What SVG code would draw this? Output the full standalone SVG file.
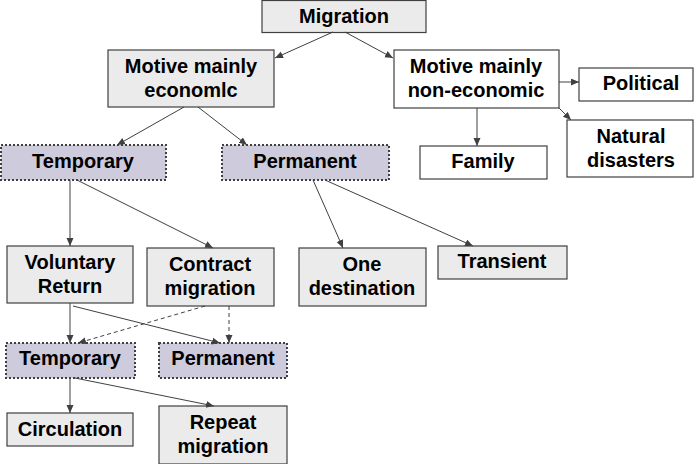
<svg xmlns="http://www.w3.org/2000/svg" width="694" height="464" viewBox="0 0 694 464">
<style>
.g{fill:#ebebeb;stroke:#404040;stroke-width:1.2}
.w{fill:#ffffff;stroke:#404040;stroke-width:1.2}
.p{fill:#cdcbdc;stroke:#404040;stroke-width:2;stroke-dasharray:2 2}
text{font-family:"Liberation Sans",Arial,sans-serif;font-weight:bold;font-size:20px;fill:#000;text-anchor:middle}
.c line{stroke:#404040;stroke-width:1;fill:none;marker-end:url(#ah)}
.c .d{stroke-dasharray:4 3}
</style>
<defs>
<marker id="ah" markerUnits="userSpaceOnUse" markerWidth="9" markerHeight="8" refX="8" refY="3.5" orient="auto">
<path d="M0,0 L8,3.5 L0,7 z" fill="#404040"/>
</marker>
</defs>
<rect width="694" height="464" fill="#ffffff"/>
<g id="n-migration"><rect class="g" x="262" y="0.5" width="164" height="32"/><text x="344" y="23">Migration</text></g>
<g id="n-economic"><rect class="g" x="108" y="50" width="166" height="57"/><text x="191" y="73">Motive mainly</text><text x="191" y="97">economlc</text></g>
<g id="n-noneconomic"><rect class="w" x="394" y="50" width="165" height="58"/><text x="476" y="73">Motive mainly</text><text x="476" y="97">non-economic</text></g>
<g id="n-political"><rect class="w" x="579" y="68" width="114" height="33"/><text x="641" y="90">Political</text></g>
<g id="n-natural"><rect class="w" x="567" y="120" width="126" height="57"/><text x="631" y="143">Natural</text><text x="631" y="167">disasters</text></g>
<g id="n-family"><rect class="w" x="420" y="146" width="127" height="33"/><text x="483" y="168">Family</text></g>
<g id="n-temporary1"><rect class="p" x="1" y="145" width="165" height="35"/><text x="83" y="168">Temporary</text></g>
<g id="n-permanent1"><rect class="p" x="222" y="145" width="167" height="35"/><text x="305" y="168">Permanent</text></g>
<g id="n-voluntary"><rect class="g" x="7" y="246" width="126" height="57"/><text x="70" y="269">Voluntary</text><text x="70" y="293">Return</text></g>
<g id="n-contract"><rect class="g" x="147" y="248" width="127" height="58"/><text x="210" y="271">Contract</text><text x="210" y="295">migration</text></g>
<g id="n-onedest"><rect class="g" x="299" y="248" width="127" height="58"/><text x="362" y="271">One</text><text x="362" y="295">destination</text></g>
<g id="n-transient"><rect class="g" x="438" y="246" width="129" height="33"/><text x="502" y="268">Transient</text></g>
<g id="n-temporary2"><rect class="p" x="6" y="343" width="129" height="35"/><text x="70" y="365">Temporary</text></g>
<g id="n-permanent2"><rect class="p" x="159" y="343" width="128" height="35"/><text x="223" y="365">Permanent</text></g>
<g id="n-circulation"><rect class="g" x="7" y="413" width="126" height="33"/><text x="70" y="436">Circulation</text></g>
<g id="n-repeat"><rect class="g" x="159" y="406" width="128" height="58"/><text x="223" y="429">Repeat</text><text x="223" y="453">migration</text></g>
<g id="connectors" class="c">
<line x1="333" y1="32" x2="275" y2="58"/>
<line x1="345" y1="32" x2="393" y2="58"/>
<line x1="184" y1="107" x2="117" y2="145"/>
<line x1="198" y1="107" x2="247" y2="145"/>
<line x1="559" y1="82" x2="579" y2="82"/>
<line x1="559" y1="108" x2="571" y2="120"/>
<line x1="477" y1="108" x2="477" y2="146"/>
<line x1="70" y1="180" x2="70" y2="246"/>
<line x1="77" y1="180" x2="213" y2="248"/>
<line x1="313" y1="180" x2="343" y2="248"/>
<line x1="325" y1="180" x2="473" y2="246"/>
<line x1="70" y1="303" x2="70" y2="343"/>
<line x1="73" y1="306" x2="220" y2="343"/>
<line class="d" x1="205" y1="306" x2="78" y2="343"/>
<line class="d" x1="229" y1="306" x2="229" y2="343"/>
<line x1="70" y1="378" x2="70" y2="413"/>
<line x1="75" y1="378" x2="214" y2="406"/>
</g>
</svg>
